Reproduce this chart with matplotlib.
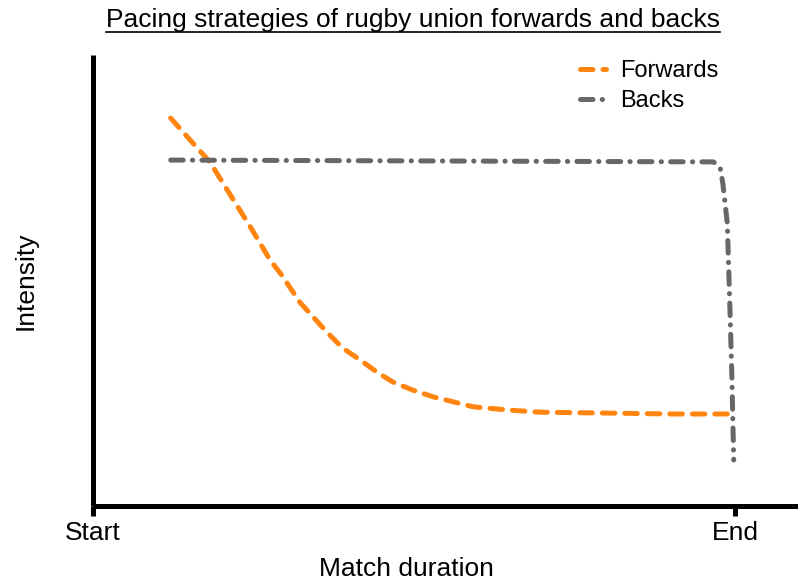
import matplotlib
matplotlib.use('Agg')
import matplotlib.pyplot as plt
from matplotlib.lines import Line2D

plt.rcParams['font.family'] = ['Liberation Sans', 'DejaVu Sans']

# values (x: 0 = start, 100 = end of match)
fwd_x = [12.1, 15.1, 18.2, 20.9, 24.5, 27.6, 29.4, 32.2, 34.3, 36.4, 38.9,
         41.6, 44.2, 46.7, 49.8, 53.0, 59.2, 64.5, 69.6, 80.1, 90.3, 100.0]
fwd_y = [86.0, 81.2, 76.3, 70.1, 61.9, 54.5, 51.2, 45.2, 41.9, 38.6, 35.0,
         32.4, 29.7, 27.5, 25.7, 24.2, 22.0, 21.3, 20.8, 20.6, 20.4, 20.4]

back_x = [12.1, 96.6, 97.2, 97.7, 98.1, 98.8, 99.2, 99.5, 99.8]
back_y = [76.7, 76.3, 75.8, 74.9, 71.6, 62.7, 44.1, 29.5, 10.2]

tick_pos = [0, 100]
tick_labels = ['Start', 'End']

orange = '#ff8510'
grey = '#676767'
fwd_dash = (2.5, 2.0)
back_dash = (2.5, 1.85, 0.05, 1.85)

fig = plt.figure(figsize=(7.98, 5.81), dpi=100)
ax = fig.add_axes([93 / 798, 75 / 581, 705 / 798, 451 / 581])

ax.plot(fwd_x, fwd_y, color=orange, lw=3.6, dashes=fwd_dash,
        dash_capstyle='round', label='Forwards')
ax.plot(back_x, back_y, color=grey, lw=3.6, dashes=back_dash,
        dash_capstyle='round', label='Backs')

ax.set_xlim(0, 705 / 6.42)
ax.set_ylim(0, 100)

for s in ['top', 'right']:
    ax.spines[s].set_visible(False)
for s in ['left', 'bottom']:
    ax.spines[s].set_linewidth(3.6)
    ax.spines[s].set_capstyle('butt')

ax.set_xticks(tick_pos)
ax.set_xticklabels(tick_labels, fontsize=19)
ax.set_yticks([])
ax.tick_params(axis='x', length=7, width=3.6, pad=4)

ax.set_xlabel('Match duration', fontsize=19)
ax.xaxis.set_label_coords((406 - 93) / 705, -0.113)
ax.set_ylabel('Intensity', fontsize=19)
ax.yaxis.set_label_coords(-0.078, 0.5)

handles = [Line2D([], [], color=orange, lw=3.6, dashes=fwd_dash, dash_capstyle='round'),
           Line2D([], [], color=grey, lw=3.6, dashes=back_dash, dash_capstyle='round')]
ax.legend(handles, ['Forwards', 'Backs'], loc='upper left',
          bbox_to_anchor=((559 - 93) / 705, 1.036), frameon=False,
          fontsize=17, handlelength=1.1, handletextpad=0.6, labelspacing=0.35)

t = fig.text(413 / 798, 1 - 20 / 581, 'Pacing strategies of rugby union forwards and backs',
             ha='center', va='center', fontsize=19)
fig.canvas.draw()
bb = t.get_window_extent().transformed(fig.transFigure.inverted())
fig.add_artist(Line2D([bb.x0, bb.x1], [1 - 32 / 581] * 2, color='black', lw=1.2,
                      transform=fig.transFigure))

fig.savefig('out.png', dpi=100)
